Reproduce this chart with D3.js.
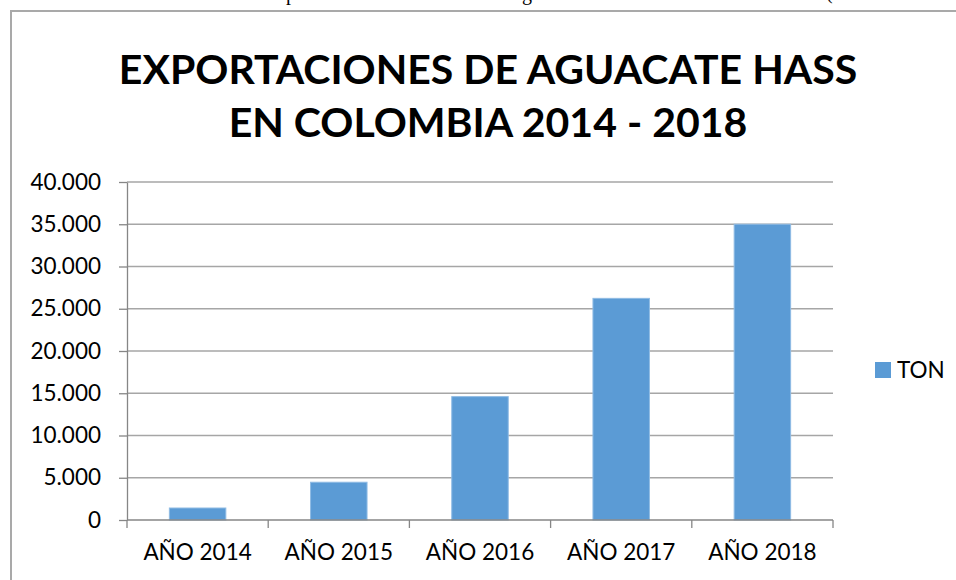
<!DOCTYPE html>
<html>
<head>
<meta charset="utf-8">
<script src="https://cdn.jsdelivr.net/npm/d3@7"></script>
<style>
  body { margin: 0; background: #fff; }
  svg { display: block; }
</style>
</head>
<body>
<div id="chart-container"></div>
<script>
const years = ["AÑO 2014", "AÑO 2015", "AÑO 2016", "AÑO 2017", "AÑO 2018"];
const ton = [1420, 4470, 14600, 26230, 35000];
const yTicks = [0, 5000, 10000, 15000, 20000, 25000, 30000, 35000, 40000];
const titleLines = ["EXPORTACIONES DE AGUACATE HASS", "EN COLOMBIA 2014 - 2018"];
const seriesName = "TON";

const W = 956, H = 580;
const margin = {top: 182, right: 123, bottom: 60, left: 127};
const width = W - margin.left - margin.right,
      height = H - margin.top - margin.bottom;
const labelFont = "Lato, 'Open Sans', sans-serif";

const root = d3.select("#chart-container")
  .append("svg")
    .attr("width", W)
    .attr("height", H);

// cut-off line of the surrounding document (only descenders show)
root.append("g")
    .style("font-family", "'Liberation Serif', serif")
    .style("font-size", "20px")
  .selectAll("text")
  .data([["p", 286, 0], ["g", 522, 0], ["(", 826, -1]])
  .enter().append("text")
    .attr("x", d => d[1])
    .attr("y", d => d[2])
    .text(d => d[0]);

// chart frame
root.append("rect")
    .attr("x", 11).attr("y", 11)
    .attr("width", W + 20).attr("height", H + 20)
    .attr("fill", "none")
    .attr("stroke", "#a9a9a9")
    .attr("stroke-width", 2);

// title
root.append("g")
  .selectAll("text")
  .data(titleLines)
  .enter().append("text")
    .attr("x", 488)
    .attr("y", (d, i) => 84 + i * 53)
    .attr("text-anchor", "middle")
    .style("font-family", labelFont)
    .style("font-weight", "bold")
    .style("font-size", "41px")
    .style("fill", "#000")
    .text(d => d);

const svg = root.append("g")
    .attr("transform", "translate(" + margin.left + "," + margin.top + ")");

const band = d3.scaleBand().range([0, width]).domain(years);

const y = d3.scaleLinear()
  .range([height, 0])
  .domain([0, 40000]);

// gridlines
svg.append("g")
  .selectAll("line")
  .data(yTicks.filter(d => d > 0))
  .enter().append("line")
    .attr("x1", 0).attr("x2", width)
    .attr("y1", d => y(d)).attr("y2", d => y(d))
    .attr("stroke", "#a6a6a6")
    .attr("stroke-width", 1.3);

// bars
svg.selectAll(".bar")
  .data(ton)
  .enter().append("rect")
    .attr("class", "bar")
    .attr("x", (d, i) => band(years[i]) + band.bandwidth() * 0.3)
    .attr("y", d => y(d))
    .attr("width", band.bandwidth() * 0.4)
    .attr("height", d => height - y(d))
    .style("fill", "#5b9bd5")
    .style("stroke", "#8fbbe4")
    .style("stroke-width", 1);

const fmt = d3.formatLocale({decimal: ",", thousands: ".", grouping: [3], currency: ["", ""]}).format(",");

// y axis
const yAxis = svg.append("g")
  .call(d3.axisLeft(y).tickValues(yTicks).tickSize(8).tickSizeOuter(0).tickFormat(d => fmt(d)).tickPadding(18));
yAxis.select(".domain").attr("stroke", "#868686").attr("stroke-width", 1.3);
yAxis.selectAll(".tick line").attr("stroke", "#868686").attr("stroke-width", 1.3);
yAxis.selectAll("text")
  .style("font-family", labelFont)
  .style("font-size", "22.5px")
  .style("fill", "#000");

// x axis
const xAxisG = svg.append("g")
  .attr("transform", "translate(0," + height + ")");
xAxisG.append("line")
  .attr("x1", 0).attr("x2", width)
  .attr("stroke", "#868686").attr("stroke-width", 1.3);
xAxisG.selectAll(".xt")
  .data(years.map(d => band(d)).concat([width]))
  .enter().append("line")
    .attr("class", "xt")
    .attr("x1", d => d).attr("x2", d => d)
    .attr("y1", 0).attr("y2", 8)
    .attr("stroke", "#868686").attr("stroke-width", 1.3);
xAxisG.selectAll(".xl")
  .data(years)
  .enter().append("text")
    .attr("class", "xl")
    .attr("x", d => band(d) + band.bandwidth() / 2)
    .attr("y", 40)
    .attr("text-anchor", "middle")
    .style("font-family", labelFont)
    .style("font-size", "22.5px")
    .style("fill", "#000")
    .text(d => d);

// legend
const legend = root.append("g")
  .attr("transform", "translate(875,362)");
legend.append("rect")
  .attr("width", 16).attr("height", 16)
  .style("fill", "#5b9bd5");
legend.append("text")
  .attr("x", 22).attr("y", 16)
  .style("font-family", labelFont)
  .style("font-size", "22.5px")
  .style("fill", "#000")
  .text(seriesName);
</script>
</body>
</html>
